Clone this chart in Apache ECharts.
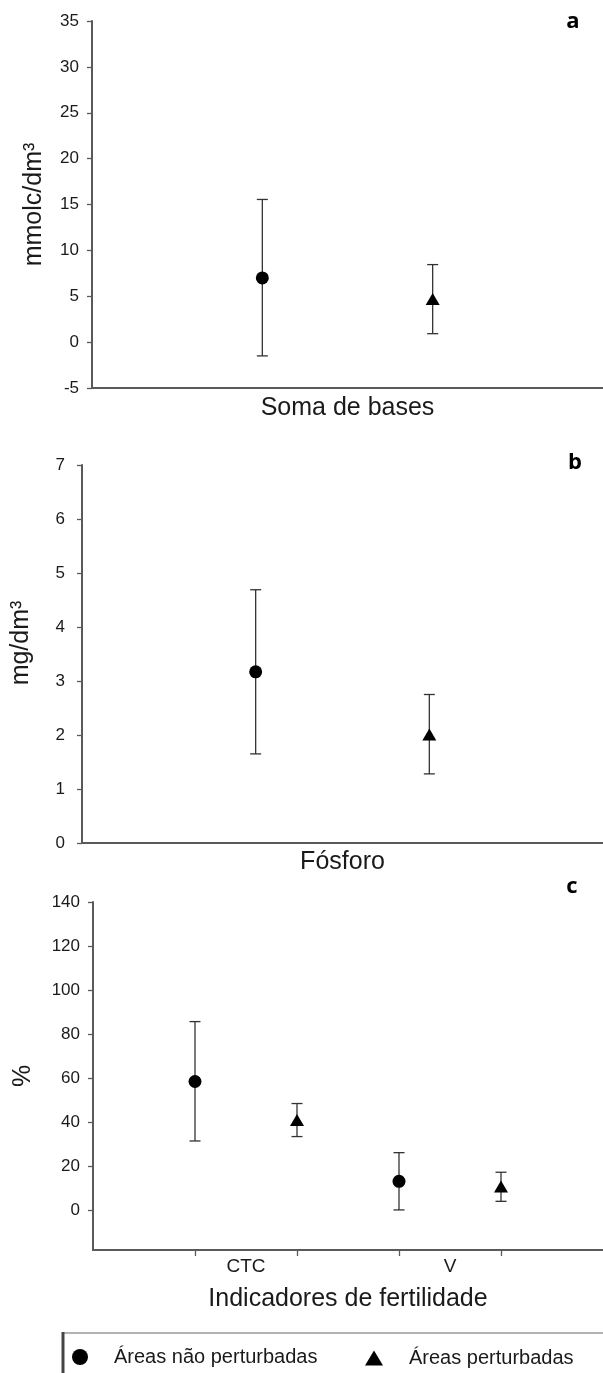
<!DOCTYPE html>
<html><head><meta charset="utf-8">
<script src="https://cdn.jsdelivr.net/npm/echarts@6/dist/echarts.min.js"></script>
<style>html,body{margin:0;padding:0;background:#fff}#c{width:603px;height:1373px}</style>
</head><body><div id="c"></div>
<script>
const seriesNames = ['Áreas não perturbadas', 'Áreas perturbadas'];
// Panel a: Soma de bases
const aTitle = 'Soma de bases';
const aUnit = 'mmolc/dm³';
const aMean = [7.0, 4.7];
const aLow = [-1.5, 0.92];
const aHigh = [15.55, 8.45];
// Panel b: Fósforo
const bTitle = 'Fósforo';
const bUnit = 'mg/dm³';
const bMean = [3.17, 2.01];
const bLow = [1.65, 1.28];
const bHigh = [4.69, 2.75];
// Panel c: Indicadores de fertilidade
const cTitle = 'Indicadores de fertilidade';
const cUnit = '%';
const cCategories = ['CTC', 'V'];
const cMeanNP = [58.5, 13.2];
const cLowNP = [31.5, 0.2];
const cHighNP = [85.7, 26.2];
const cMeanP = [41.0, 10.8];
const cLowP = [33.5, 4.1];
const cHighP = [48.5, 17.3];
const cYTicks = [0, 20, 40, 60, 80, 100, 120, 140];
const panelLetters = ['a', 'b', 'c'];

const FF = '"Liberation Sans", Arial, sans-serif';
const TXT = '#1a1a1a';
const AX = '#5a5a5a';

function errRender(params, api) {
  const x = api.value(0), lo = api.value(1), hi = api.value(2);
  const pHi = api.coord([x, hi]), pLo = api.coord([x, lo]);
  const w = 5.5;
  const st = { stroke: '#333', lineWidth: 1.3 };
  return { type: 'group', children: [
    { type: 'line', shape: { x1: pHi[0], y1: pHi[1], x2: pLo[0], y2: pLo[1] }, style: st },
    { type: 'line', shape: { x1: pHi[0] - w, y1: pHi[1], x2: pHi[0] + w, y2: pHi[1] }, style: st },
    { type: 'line', shape: { x1: pLo[0] - w, y1: pLo[1], x2: pLo[0] + w, y2: pLo[1] }, style: st }
  ]};
}

const axLine = { show: true, onZero: false, lineStyle: { color: AX, width: 2 } };
const tickStyle = { color: AX, width: 1.3 };
const nameStyle = { fontSize: 25, color: TXT, fontFamily: FF };
const labStyle = { fontSize: 17, color: TXT, fontFamily: FF };

const grids = [
  { left: 92, top: 21, width: 513, height: 367 },
  { left: 82, top: 465, width: 528, height: 378 },
  { left: 93, top: 902, width: 514, height: 348 }
];

const xAxes = [
  { gridIndex: 0, type: 'value', min: 0, max: 3, axisLine: axLine, axisTick: { show: false }, axisLabel: { show: false }, splitLine: { show: false },
    name: aTitle, nameLocation: 'middle', nameGap: 8, nameMoveOverlap: false, nameTextStyle: nameStyle },
  { gridIndex: 1, type: 'value', min: 0, max: 3, axisLine: axLine, axisTick: { show: false }, axisLabel: { show: false }, splitLine: { show: false },
    name: bTitle, nameLocation: 'middle', nameGap: 7, nameMoveOverlap: false, nameTextStyle: nameStyle },
  { gridIndex: 2, type: 'value', min: 0, max: 5, axisLine: axLine,
    axisTick: { show: true, length: 6, lineStyle: tickStyle, customValues: cCategories.flatMap((_, i) => [2 * i + 1, 2 * i + 2]) },
    axisLabel: { show: true, margin: 7, fontSize: 19, color: TXT, fontFamily: FF,
      customValues: cCategories.map((_, i) => 2 * i + 1.5),
      formatter: v => cCategories[Math.round((v - 1.5) / 2)] },
    splitLine: { show: false },
    name: cTitle, nameLocation: 'middle', nameGap: 37, nameMoveOverlap: false, nameTextStyle: nameStyle }
];

const yAxes = [
  { gridIndex: 0, type: 'value', min: -5, max: 35, interval: 5, axisLine: axLine,
    axisTick: { show: true, length: 5, lineStyle: tickStyle }, axisLabel: Object.assign({ margin: 13 }, labStyle), splitLine: { show: false },
    name: aUnit, nameLocation: 'middle', nameRotate: 90, nameGap: 45, nameMoveOverlap: false, nameTextStyle: nameStyle },
  { gridIndex: 1, type: 'value', min: 0, max: 7, interval: 1, axisLine: axLine,
    axisTick: { show: true, length: 5, lineStyle: tickStyle }, axisLabel: Object.assign({ margin: 17 }, labStyle), splitLine: { show: false },
    name: bUnit, nameLocation: 'middle', nameRotate: 90, nameGap: 48, nameMoveOverlap: false,
    nameTextStyle: Object.assign({ padding: [0, 0, 0, 22] }, nameStyle) },
  { gridIndex: 2, type: 'value', min: -18, max: 140, axisLine: axLine,
    axisTick: { show: true, length: 5, lineStyle: tickStyle, customValues: cYTicks },
    axisLabel: Object.assign({ margin: 13, customValues: cYTicks }, labStyle), splitLine: { show: false },
    name: cUnit, nameLocation: 'middle', nameRotate: 90, nameGap: 57, nameMoveOverlap: false, nameTextStyle: nameStyle }
];

const symbols = ['circle', 'triangle'];
const symSizes = [13, [14, 12]];
const series = [];
// panels a and b
[[aMean, aLow, aHigh], [bMean, bLow, bHigh]].forEach((d, p) => {
  const [mean, low, high] = d;
  series.push({ type: 'custom', name: 'err' + p, xAxisIndex: p, yAxisIndex: p, renderItem: errRender,
    encode: { x: 0, y: [1, 2] }, data: mean.map((m, i) => [i + 1, low[i], high[i]]), z: 1, silent: true });
  mean.forEach((m, i) => {
    series.push({ type: 'scatter', name: seriesNames[i], xAxisIndex: p, yAxisIndex: p, symbol: symbols[i],
      symbolSize: symSizes[i], itemStyle: { color: '#000', opacity: 1 }, data: [[i + 1, m]], z: 3 });
  });
});
// panel c
const cGroups = [[cMeanNP, cLowNP, cHighNP], [cMeanP, cLowP, cHighP]];
cGroups.forEach((g, s) => {
  const [mean, low, high] = g;
  series.push({ type: 'custom', name: 'errc' + s, xAxisIndex: 2, yAxisIndex: 2, renderItem: errRender,
    encode: { x: 0, y: [1, 2] }, data: cCategories.map((c, i) => [2 * i + 1 + s, low[i], high[i]]), z: 1, silent: true });
  series.push({ type: 'scatter', name: seriesNames[s], xAxisIndex: 2, yAxisIndex: 2, symbol: symbols[s],
    symbolSize: symSizes[s], itemStyle: { color: '#000', opacity: 1 },
    data: cCategories.map((c, i) => [2 * i + 1 + s, mean[i]]), z: 3 });
});

const legendCommon = { padding: 0, selectedMode: false, symbolKeepAspect: true,
  textStyle: { fontSize: 20, color: TXT, fontFamily: FF, padding: [0, 0, 0, 21] } };

const option = {
  animation: false,
  backgroundColor: '#fff',
  grid: grids,
  xAxis: xAxes,
  yAxis: yAxes,
  series: series,
  legend: [
    Object.assign({ data: [{ name: seriesNames[0], icon: 'circle' }], left: 72, top: 1347, itemWidth: 16, itemHeight: 16 }, legendCommon),
    Object.assign({ data: [{ name: seriesNames[1], icon: 'triangle' }], left: 365, top: 1348, itemWidth: 18, itemHeight: 15 }, legendCommon)
  ],
  graphic: [
    { type: 'text', x: 573, y: 22, style: { text: panelLetters[0], font: 'bold 22px "Open Sans", sans-serif', fill: '#000', textAlign: 'center', textVerticalAlign: 'middle' } },
    { type: 'text', x: 575, y: 463, style: { text: panelLetters[1], font: 'bold 22px "Open Sans", sans-serif', fill: '#000', textAlign: 'center', textVerticalAlign: 'middle' } },
    { type: 'text', x: 572, y: 887, style: { text: panelLetters[2], font: 'bold 22px "Open Sans", sans-serif', fill: '#000', textAlign: 'center', textVerticalAlign: 'middle' } },
    { type: 'rect', shape: { x: 63, y: 1333, width: 600, height: 100 }, style: { fill: 'none', stroke: '#9a9a9a', lineWidth: 1.5 } },
    { type: 'line', shape: { x1: 63, y1: 1332, x2: 63, y2: 1373 }, style: { stroke: '#444', lineWidth: 3 } }
  ]
};

const chart = echarts.init(document.getElementById('c'), null, { renderer: 'canvas' });
chart.setOption(option);
</script>
</body></html>
